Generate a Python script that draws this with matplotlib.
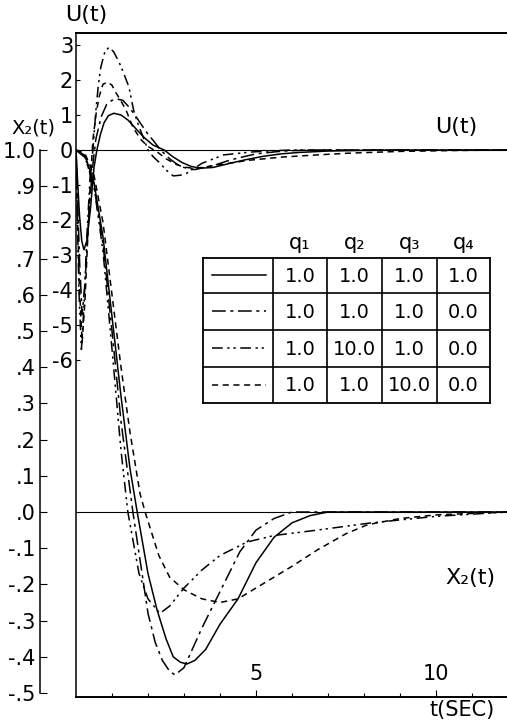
import matplotlib
matplotlib.use("Agg")
import matplotlib.pyplot as plt
from matplotlib import font_manager

plt.rcParams['font.family'] = ['DejaVu Sans']
_names = {f.name for f in font_manager.fontManager.ttflist}
NARROW = 'Liberation Sans Narrow' if 'Liberation Sans Narrow' in _names else 'DejaVu Sans'
TICK_FS = 17 if NARROW != 'DejaVu Sans' else 15

# ---------------- data ----------------
# U(t) curves
t_u_solid = [0, 0.05, 0.1, 0.16, 0.22, 0.3, 0.4, 0.5, 0.58, 0.68, 0.78, 0.9, 1.05, 1.25, 1.45,
             1.67, 1.9, 2.14, 2.45, 2.7, 2.95, 3.2, 3.45, 3.8, 4.2, 4.7, 5.2, 5.7, 6.2, 7.0, 8.0, 9.0, 12]
u_solid = [0, -1.0, -1.9, -2.6, -2.85, -2.6, -1.7, -0.5, 0.0, 0.45, 0.78, 0.98, 1.05, 1.0, 0.85,
           0.6, 0.35, 0.14, 0.0, -0.2, -0.36, -0.47, -0.52, -0.5, -0.4, -0.28, -0.18, -0.11, -0.07, -0.03, -0.01, 0, 0]

t_u_dd = [0, 0.05, 0.1, 0.17, 0.25, 0.35, 0.45, 0.55, 0.7, 0.85, 1.0, 1.17, 1.3, 1.47,
          1.65, 1.8, 2.0, 2.14, 2.35, 2.6, 2.8, 3.0, 3.3, 3.8, 4.3, 5.0, 5.75, 6.5, 12]
u_dd = [0, -1.6, -3.2, -4.7, -3.8, -2.0, -0.6, 0.3, 0.95, 1.3, 1.42, 1.45, 1.42, 1.23,
        0.98, 0.75, 0.45, 0.28, 0.0, -0.25, -0.4, -0.5, -0.56, -0.45, -0.28, -0.11, -0.03, 0, 0]

t_u_ddd = [0, 0.04, 0.08, 0.15, 0.22, 0.3, 0.4, 0.47, 0.55, 0.62, 0.69, 0.8, 0.92, 1.05, 1.2,
           1.33, 1.47, 1.6, 1.73, 1.86, 2.0, 2.15, 2.33, 2.5, 2.7, 2.9, 3.08, 3.5, 4.1, 4.83, 5.5, 6.0, 12]
u_ddd = [0, -2.0, -4.0, -5.7, -4.5, -2.5, -0.6, 0.0, 1.1, 1.85, 2.37, 2.8, 2.94, 2.8, 2.5,
         2.18, 1.8, 1.14, 0.72, 0.38, 0.0, -0.2, -0.37, -0.57, -0.74, -0.72, -0.66, -0.38, -0.14, -0.06, -0.02, 0, 0]

t_u_dash = [0, 0.04, 0.09, 0.17, 0.25, 0.33, 0.4, 0.47, 0.56, 0.65, 0.75, 0.88, 1.0, 1.1,
            1.25, 1.39, 1.58, 1.8, 2.0, 2.25, 2.5, 2.8, 3.0, 3.25, 3.5, 3.9, 4.83, 5.75, 6.7, 7.6, 9.0, 10.5, 12]
u_dash = [0, -1.8, -3.8, -5.5, -4.3, -2.4, -0.9, 0.3, 1.05, 1.55, 1.88, 1.94, 1.85, 1.65,
          1.4, 1.14, 0.65, 0.3, 0.1, -0.05, -0.25, -0.42, -0.49, -0.52, -0.5, -0.43, -0.29, -0.2, -0.14, -0.09, -0.04, -0.015, 0]

# X2(t) curves
t_x_solid = [0, 0.25, 0.5, 0.75, 1.0, 1.25, 1.5, 1.7, 2.0, 2.25, 2.5, 2.7, 2.9, 3.08, 3.3,
             3.6, 4.0, 4.5, 5.0, 5.5, 6.0, 6.5, 7.0, 12]
x_solid = [1.0, 0.985, 0.91, 0.76, 0.54, 0.32, 0.12, 0.0, -0.17, -0.27, -0.35, -0.4, -0.415, -0.42, -0.41,
           -0.38, -0.31, -0.24, -0.14, -0.07, -0.03, -0.01, 0, 0]

t_x_dd = [0, 0.25, 0.5, 0.75, 1.0, 1.25, 1.58, 2.0, 2.2, 2.4, 2.6, 2.75, 3.0, 3.5, 4.0,
          4.55, 5.0, 5.5, 6.0, 12]
x_dd = [1.0, 0.98, 0.9, 0.74, 0.5, 0.25, 0.0, -0.28, -0.36, -0.41, -0.44, -0.45, -0.43, -0.32, -0.22,
        -0.11, -0.05, -0.018, 0, 0]

t_x_ddd = [0, 0.25, 0.5, 0.75, 1.0, 1.25, 1.44, 1.75, 2.0, 2.33, 2.6, 3.0, 3.5, 4.0,
           4.75, 5.5, 6.7, 8.2, 10.0, 12]
x_ddd = [1.0, 0.98, 0.9, 0.72, 0.45, 0.17, 0.0, -0.17, -0.24, -0.28, -0.26, -0.21, -0.16, -0.12,
         -0.083, -0.065, -0.05, -0.03, -0.012, 0]

t_x_dash = [0, 0.25, 0.5, 0.75, 1.0, 1.25, 1.5, 1.78, 1.92, 2.3, 2.6, 3.0, 3.5, 4.0, 4.5,
            5.0, 5.5, 6.0, 6.7, 7.5, 8.1, 9.0, 10.0, 12]
x_dash = [1.0, 0.99, 0.93, 0.8, 0.6, 0.4, 0.22, 0.05, 0.0, -0.12, -0.18, -0.215, -0.24, -0.25, -0.24,
          -0.21, -0.18, -0.15, -0.105, -0.06, -0.035, -0.018, -0.008, 0]

u_ticks = [3, 2, 1, 0, -1, -2, -3, -4, -5, -6]
u_tick_labels = ["3", "2", "1", "0", "-1", "-2", "-3", "-4", "-5", "-6"]
x2_ticks = [1.0, 0.9, 0.8, 0.7, 0.6, 0.5, 0.4, 0.3, 0.2, 0.1, 0.0, -0.1, -0.2, -0.3, -0.4, -0.5]
x2_tick_labels = ["1.0", ".9", ".8", ".7", ".6", ".5", ".4", ".3", ".2", ".1", ".0",
                  "-.1", "-.2", "-.3", "-.4", "-.5"]
t_ticks = [5, 10]
t_tick_labels = ["5", "10"]

table_header = ["q\u2081", "q\u2082", "q\u2083", "q\u2084"]
table_rows = [["1.0", "1.0", "1.0", "1.0"],
              ["1.0", "1.0", "1.0", "0.0"],
              ["1.0", "10.0", "1.0", "0.0"],
              ["1.0", "1.0", "10.0", "0.0"]]

# ---------------- styles ----------------
ls_solid = '-'
ls_dd = (0, (9, 3, 2, 3))
ls_ddd = (0, (7, 3, 1.5, 2.5, 1.5, 3))
ls_dash = (0, (4, 3))
styles = [ls_solid, ls_dd, ls_ddd, ls_dash]
lw = 1.1
col = 'black'

W, H = 507, 725
fig = plt.figure(figsize=(W / 100, H / 100), dpi=100)

def fx(px):
    return px / W

def fy(py):
    return 1 - py / H

L, R, T, B = 76, 507, 33, 697
ax = fig.add_axes([fx(L), fy(B), fx(R - L), (B - T) / H])
ax.set_xlim(0, (R - L) / 36.0)
ax.set_ylim((150 - B) / 35.0, (150 - T) / 35.0)

ax2 = ax.twinx()
ax2.set_ylim((512 - B) / 362.0, (512 - T) / 362.0)

for a in (ax, ax2):
    a.patch.set_visible(False)
    a.spines['right'].set_visible(False)
ax2.spines['top'].set_visible(False)
ax2.spines['bottom'].set_visible(False)

# U axis (inner left spine)
ax.set_yticks(u_ticks)
ax.set_yticklabels(u_tick_labels, fontfamily=NARROW)
ax.tick_params(axis='y', direction='in', length=3, width=0.8, pad=2, labelsize=TICK_FS)
ax.spines['left'].set_linewidth(1.1)
ax.spines['top'].set_linewidth(1.4)
ax.spines['bottom'].set_linewidth(1.4)

# X2 axis (outer left spine)
ax2.yaxis.set_ticks_position('left')
ax2.yaxis.set_label_position('left')
ax2.spines['left'].set_visible(True)
ax2.spines['left'].set_position(('outward', 36 * 72 / 100))
ax2.spines['left'].set_bounds(-0.5, 1.0)
ax2.spines['left'].set_linewidth(1.1)
ax2.set_yticks(x2_ticks)
ax2.set_yticklabels(x2_tick_labels, fontfamily=NARROW)
ax2.tick_params(axis='y', direction='in', length=5, width=0.8, pad=3, labelsize=TICK_FS)

# time axis
ax.set_xticks(t_ticks)
ax.set_xticklabels(t_tick_labels, fontfamily=NARROW)
ax.set_xticks(range(1, 12), minor=True)
ax.tick_params(axis='x', which='major', direction='in', length=5, width=0.8, pad=-24, labelsize=TICK_FS)
ax.tick_params(axis='x', which='minor', direction='in', length=3, width=0.8)

# zero lines
ax.axhline(0, color=col, lw=0.8)
ax2.axhline(0, color=col, lw=0.8)

# curves
for tt, yy, ls in zip([t_u_solid, t_u_dd, t_u_ddd, t_u_dash],
                      [u_solid, u_dd, u_ddd, u_dash], styles):
    ax.plot(tt, yy, color=col, lw=lw, linestyle=ls)
for tt, yy, ls in zip([t_x_solid, t_x_dd, t_x_ddd, t_x_dash],
                      [x_solid, x_dd, x_ddd, x_dash], styles):
    ax2.plot(tt, yy, color=col, lw=lw, linestyle=ls)

# labels
fig.text(fx(86), fy(15), "U(t)", ha='center', va='center', fontsize=16, fontfamily=NARROW)
fig.text(fx(33), fy(128), "X\u2082(t)", ha='center', va='center', fontsize=14, fontfamily=NARROW)
fig.text(fx(456), fy(127), "U(t)", ha='center', va='center', fontsize=16, fontfamily=NARROW)
fig.text(fx(470), fy(578), "X\u2082(t)", ha='center', va='center', fontsize=16, fontfamily=NARROW)
fig.text(fx(462), fy(710), "t(SEC)", ha='center', va='center', fontsize=15, fontfamily=NARROW)

# legend table
TL, TR, TT, TB = 203, 490, 258, 403
tax = fig.add_axes([fx(TL), fy(TB), fx(TR - TL), (TB - TT) / H])
tax.set_xlim(TL, TR)
tax.set_ylim(TB, TT)
tax.set_xticks([])
tax.set_yticks([])
for s in tax.spines.values():
    s.set_linewidth(1.3)
col_edges = [TL, 273, 327, 382, 437, TR]
row_edges = [TT, 293, 330, 367, TB]
for xe in col_edges[1:-1]:
    tax.plot([xe, xe], [TT, TB], color=col, lw=1.2)
for ye in row_edges[1:-1]:
    tax.plot([TL, TR], [ye, ye], color=col, lw=1.2)
for i, (row, ls) in enumerate(zip(table_rows, styles)):
    yc = (row_edges[i] + row_edges[i + 1]) / 2
    tax.plot([212, 266], [yc, yc], color=col, lw=lw, linestyle=ls)
    for j, v in enumerate(row):
        xc = (col_edges[j + 1] + col_edges[j + 2]) / 2
        tax.text(xc, yc + 1, v, ha='center', va='center', fontsize=14)
for j, h in enumerate(table_header):
    xc = (col_edges[j + 1] + col_edges[j + 2]) / 2
    tax.text(xc, 243, h, ha='center', va='center', fontsize=15, clip_on=False)

fig.savefig("out.png", dpi=100)
